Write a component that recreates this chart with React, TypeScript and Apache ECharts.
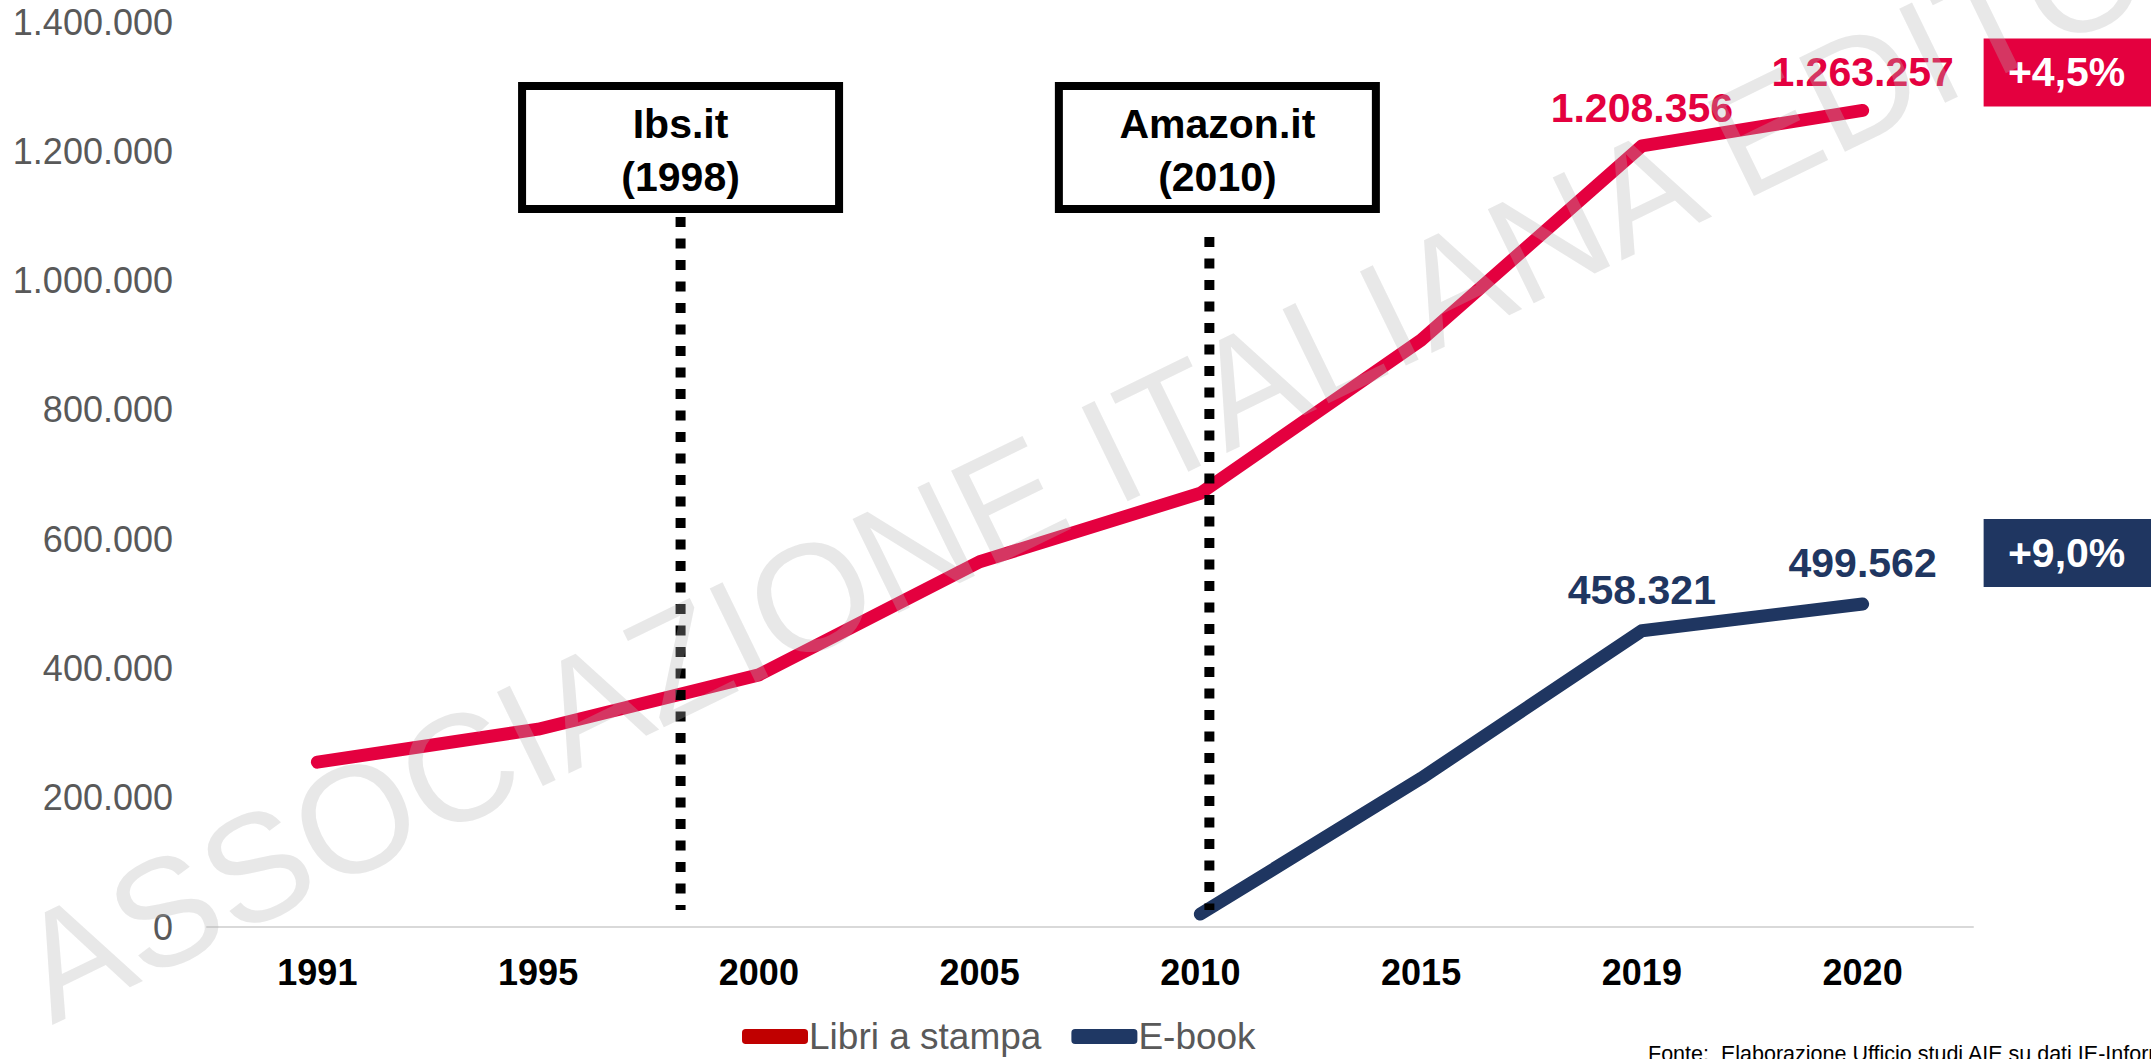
import React, { useEffect, useRef } from "react";
import * as echarts from "echarts";

// ---- data ----
const years = ["1991", "1995", "2000", "2005", "2010", "2015", "2019", "2020"];
const printBooks = [255000, 306000, 390000, 565000, 671000, 908000, 1208356, 1263257];
const eBooks = [null, null, null, null, 20000, 230000, 458321, 499562];
const labelledIdx = [6, 7];
const yMin = 0;
const yMax = 1400000;
const yInterval = 200000;
const growthPrint = "+4,5%";
const growthEbook = "+9,0%";
const eventLabels = ["Ibs.it\n(1998)", "Amazon.it\n(2010)"];
const eventYears = [1998, 2010];
const seriesNames = ["Libri a stampa", "E-book"];
const watermark = "ASSOCIAZIONE ITALIANA EDITORI";
const sourceText = "Fonte:  Elaborazione Ufficio studi AIE su dati IE-Informazioni Editoriali";

const RED = "#E4003F";
const NAVY = "#1F3661";
const FONT = "'Liberation Sans', Arial, Helvetica, sans-serif";

const fmt = (v: number) => String(Math.round(v)).replace(/\B(?=(\d{3})+(?!\d))/g, ".");

export default function App() {
  const ref = useRef<HTMLDivElement>(null);

  useEffect(() => {
    if (!ref.current) return;
    const chart = echarts.init(ref.current, undefined, { renderer: "svg" });

    const labelData = (arr: (number | null)[]) =>
      arr.map((v, i) =>
        v === null ? "-" : labelledIdx.includes(i) ? { value: v, label: { show: true } } : v
      );

    chart.setOption({
      animation: false,
      grid: { left: 207, right: 178, top: 22, bottom: 132, containLabel: false },
      legend: {
        left: 737,
        top: 1013,
        icon: "roundRect",
        itemWidth: 66,
        itemHeight: 15,
        itemGap: 30,
        textStyle: { fontSize: 37, color: "#595959", fontFamily: FONT, padding: [0, 0, 0, -4] },
        data: [
          { name: seriesNames[0], itemStyle: { color: "#C00000" } },
          { name: seriesNames[1], itemStyle: { color: "#1F3864" } },
        ],
      },
      xAxis: {
        type: "category",
        data: years,
        boundaryGap: true,
        axisTick: { show: false },
        axisLine: { lineStyle: { color: "#D9D9D9", width: 2 } },
        axisLabel: { fontSize: 36, fontWeight: "bold", color: "#000", margin: 27, fontFamily: FONT },
      },
      yAxis: {
        type: "value",
        min: yMin,
        max: yMax,
        interval: yInterval,
        splitLine: { show: false },
        axisLine: { show: false },
        axisTick: { show: false },
        axisLabel: {
          fontSize: 36,
          color: "#595959",
          margin: 34,
          fontFamily: FONT,
          formatter: (v: number) => fmt(v),
        },
      },
      series: [
        {
          name: seriesNames[0],
          type: "line",
          data: labelData(printBooks),
          symbol: "circle",
          symbolSize: 1,
          itemStyle: { color: RED },
          lineStyle: { color: RED, width: 13, cap: "round", join: "round" },
          label: {
            show: false,
            position: "top",
            distance: 17,
            fontSize: 41,
            fontWeight: "bold",
            color: RED,
            fontFamily: FONT,
            formatter: (p: any) => fmt(p.value),
          },
          emphasis: { disabled: true },
          z: 3,
        },
        {
          name: seriesNames[1],
          type: "line",
          data: labelData(eBooks),
          symbol: "circle",
          symbolSize: 1,
          itemStyle: { color: NAVY },
          lineStyle: { color: NAVY, width: 13, cap: "round", join: "round" },
          label: {
            show: false,
            position: "top",
            distance: 20,
            fontSize: 41,
            fontWeight: "bold",
            color: NAVY,
            fontFamily: FONT,
            formatter: (p: any) => fmt(p.value),
          },
          emphasis: { disabled: true },
          z: 3,
        },
      ],
    });

    // annotation positions derived from the axes
    const toPx = (idx: number, v: number) => chart.convertToPixel({ seriesIndex: 0 }, [idx, v]) as number[];
    const yearX = (yr: number) => {
      const nums = years.map(Number);
      for (let i = 0; i < nums.length - 1; i++) {
        if (yr >= nums[i] && yr <= nums[i + 1]) {
          const a = toPx(i, 0)[0];
          const b = toPx(i + 1, 0)[0];
          return a + ((b - a) * (yr - nums[i])) / (nums[i + 1] - nums[i]);
        }
      }
      return toPx(0, 0)[0];
    };
    const y0 = toPx(0, 0)[1];
    const last = years.length - 1;
    const redEnd = toPx(last, printBooks[last]);
    const navyEnd = toPx(last, eBooks[last] as number);

    const graphics: any[] = [];
    const lineOffsets = [10, 9];
    const boxOffsets = [0, 8];
    const lineTops = [217, 237];
    eventYears.forEach((yr, i) => {
      const lx = yearX(yr) + lineOffsets[i];
      const cx = lx + boxOffsets[i];
      graphics.push({
        type: "line",
        z: 50,
        shape: { x1: lx, y1: lineTops[i], x2: lx, y2: y0 - 17 },
        style: { stroke: "#000", lineWidth: 10, lineDash: [10, 11.5], lineCap: "butt" },
      });
      graphics.push({
        type: "rect",
        z: 50,
        shape: { x: cx - 158.5, y: 86, width: 317, height: 123 },
        style: { fill: "#fff", stroke: "#000", lineWidth: 8 },
      });
      graphics.push({
        type: "text",
        z: 51,
        x: cx,
        y: 150,
        style: {
          text: eventLabels[i],
          fontSize: 41,
          fontWeight: "bold",
          fontFamily: FONT,
          fill: "#000",
          lineHeight: 53,
          textAlign: "center",
          textVerticalAlign: "middle",
          align: "center",
          verticalAlign: "middle",
        },
      });
    });

    const badge = (x: number, y: number, color: string, text: string) => {
      graphics.push({
        type: "rect",
        z: 50,
        shape: { x, y, width: 170, height: 68 },
        style: { fill: color },
      });
      graphics.push({
        type: "text",
        z: 51,
        x: x + 83,
        y: y + 34,
        style: {
          text,
          fontSize: 41,
          fontWeight: "bold",
          fontFamily: FONT,
          fill: "#fff",
          textAlign: "center",
          textVerticalAlign: "middle",
          align: "center",
          verticalAlign: "middle",
        },
      });
    };
    badge(redEnd[0] + 121, redEnd[1] - 72, RED, growthPrint);
    badge(navyEnd[0] + 121, navyEnd[1] - 85, NAVY, growthEbook);

    graphics.push({
      type: "text",
      z: 60,
      x: 1648,
      y: 1043,
      style: {
        text: sourceText,
        fontSize: 21.5,
        fontFamily: FONT,
        fill: "#000",
        textAlign: "left",
        textVerticalAlign: "top",
        align: "left",
        verticalAlign: "top",
      },
    });

    graphics.push({
      type: "text",
      z: 100,
      x: 62,
      y: 1046,
      rotation: (26 * Math.PI) / 180,
      silent: true,
      style: {
        text: watermark,
        fontSize: 152,
        fontFamily: FONT,
        fill: "rgba(178,178,178,0.3)",
        textAlign: "left",
        textVerticalAlign: "bottom",
        align: "left",
        verticalAlign: "bottom",
      },
    });

    chart.setOption({ graphic: graphics });

    return () => chart.dispose();
  }, []);

  return (
    <div
      ref={ref}
      style={{ position: "fixed", left: 0, top: 0, width: 2151, height: 1059, background: "#fff" }}
    />
  );
}
